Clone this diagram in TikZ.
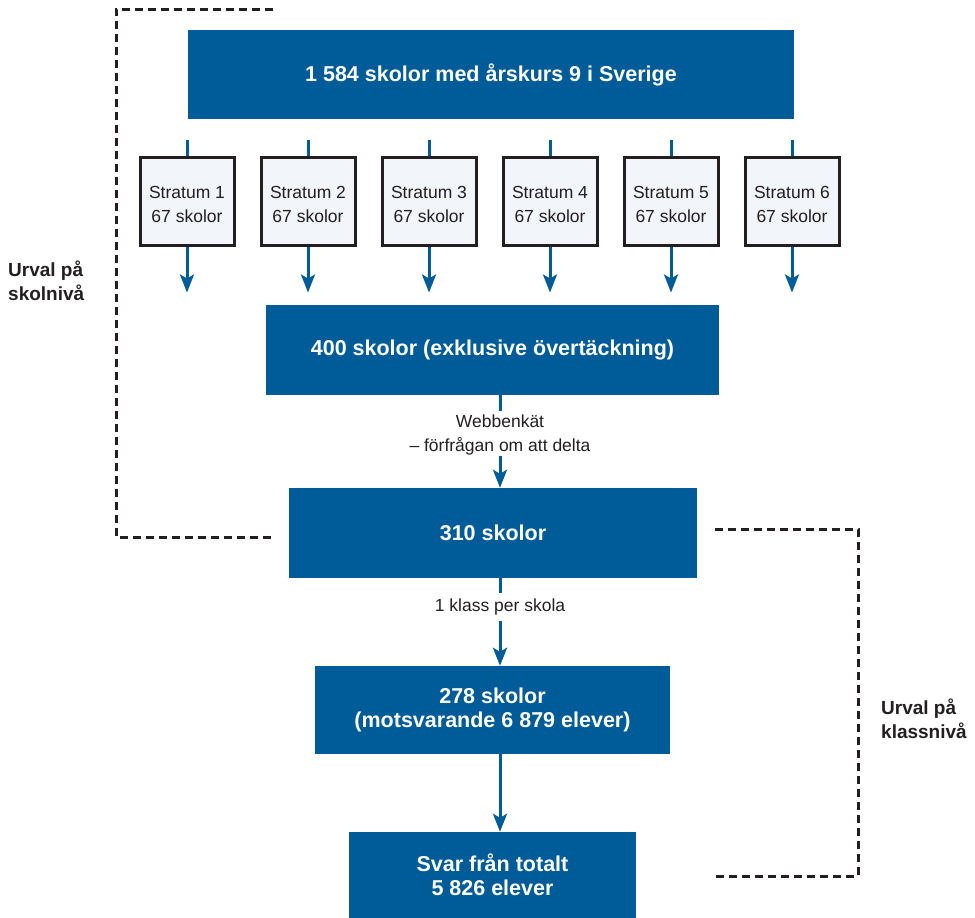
\documentclass[tikz,border=0pt]{standalone}
\usepackage{fontspec}
\setmainfont{Liberation Sans}
\usetikzlibrary{arrows.meta}
\definecolor{sblue}{RGB}{0,91,153}
\definecolor{sfill}{RGB}{242,245,250}
\definecolor{sdark}{RGB}{35,31,32}
\begin{document}
\begin{tikzpicture}[x=1pt,y=-1pt,
 bluebox/.style={fill=sblue,text=white,font=\fontsize{21.5}{24}\selectfont\bfseries,align=center,inner sep=0pt},
 stratbox/.style={draw=sdark,line width=3pt,fill=sfill,minimum width=94pt,minimum height=88pt,inner sep=0pt},
 conn/.style={draw=sblue,line width=3pt},
 arr/.style={conn,-{Stealth[length=18pt,width=14pt,inset=4pt]}},
 dashline/.style={draw=sdark,line width=3pt,dash pattern=on 8pt off 5pt},
 lbl/.style={text=sdark,font=\fontsize{17.5}{24}\selectfont,align=center,inner sep=0pt},
 side/.style={text=sdark,font=\fontsize{19}{24}\selectfont\bfseries,align=left,inner sep=0pt,anchor=west}]
\useasboundingbox (0,0) rectangle (975,918);

% blue boxes
\node[bluebox,minimum width=606pt,minimum height=89pt] (top) at (491,74.5) {1 584 skolor med årskurs 9 i Sverige};
\node[bluebox,minimum width=453pt,minimum height=90pt] (b400) at (492.5,350) {400 skolor (exklusive övertäckning)};
\node[bluebox,minimum width=408pt,minimum height=90pt] (b310) at (493,533) {310 skolor};
\node[bluebox,minimum width=355pt,minimum height=88pt] (b278) at (492.5,710) {278 skolor\\(motsvarande 6 879 elever)};
\node[bluebox,minimum width=287pt,minimum height=86pt] (bsvar) at (492.5,875) {Svar från totalt\\5 826 elever};

% strata
\foreach \i/\x in {1/187,2/308,3/429,4/550,5/671,6/792}{
  \node[stratbox] (s\i) at (\x,201) {};
  \node[lbl] (t\i) at (\x,204) {Stratum \i\\67 skolor};
  \draw[conn] (s\i.north) -- ++(0,-16);
  \draw[arr] (s\i.south) -- ++(0,46);
}

% labels between boxes
\node[lbl] (l1) at (500,435) {Webbenkät\\– förfrågan om att delta};
\node[lbl] (l2) at (500,607) {1 klass per skola};

\draw[conn] ([xshift=7.5pt]b400.south) -- ++(0,16);
\draw[arr] (l1.south) ++(0,1) -- (l1.south |- b310.north);
\draw[conn] ([xshift=7pt]b310.south) -- ++(0,15);
\draw[arr] (l2.south) ++(0,6) -- (l2.south |- b278.north);
\draw[arr] ([xshift=7.5pt]b278.south) -- ([xshift=7.5pt]bsvar.north);

% dashed brackets
\coordinate (d1) at (273,9);
\coordinate (d2) at (116,9);
\coordinate (d3) at (116,537);
\coordinate (d4) at (273,537);
\draw[dashline] (d1) -- (d2) -- (d3) -- (d4);
\coordinate (e1) at (715,529);
\coordinate (e2) at (858,529);
\coordinate (e3) at (858,876);
\coordinate (e4) at (715,876);
\draw[dashline] (e1) -- (e2) -- (e3) -- (e4);

\node[side] (u1) at (8,281) {Urval på\\skolnivå};
\node[side] (u2) at (881,719) {Urval på\\klassnivå};
\end{tikzpicture}
\end{document}
